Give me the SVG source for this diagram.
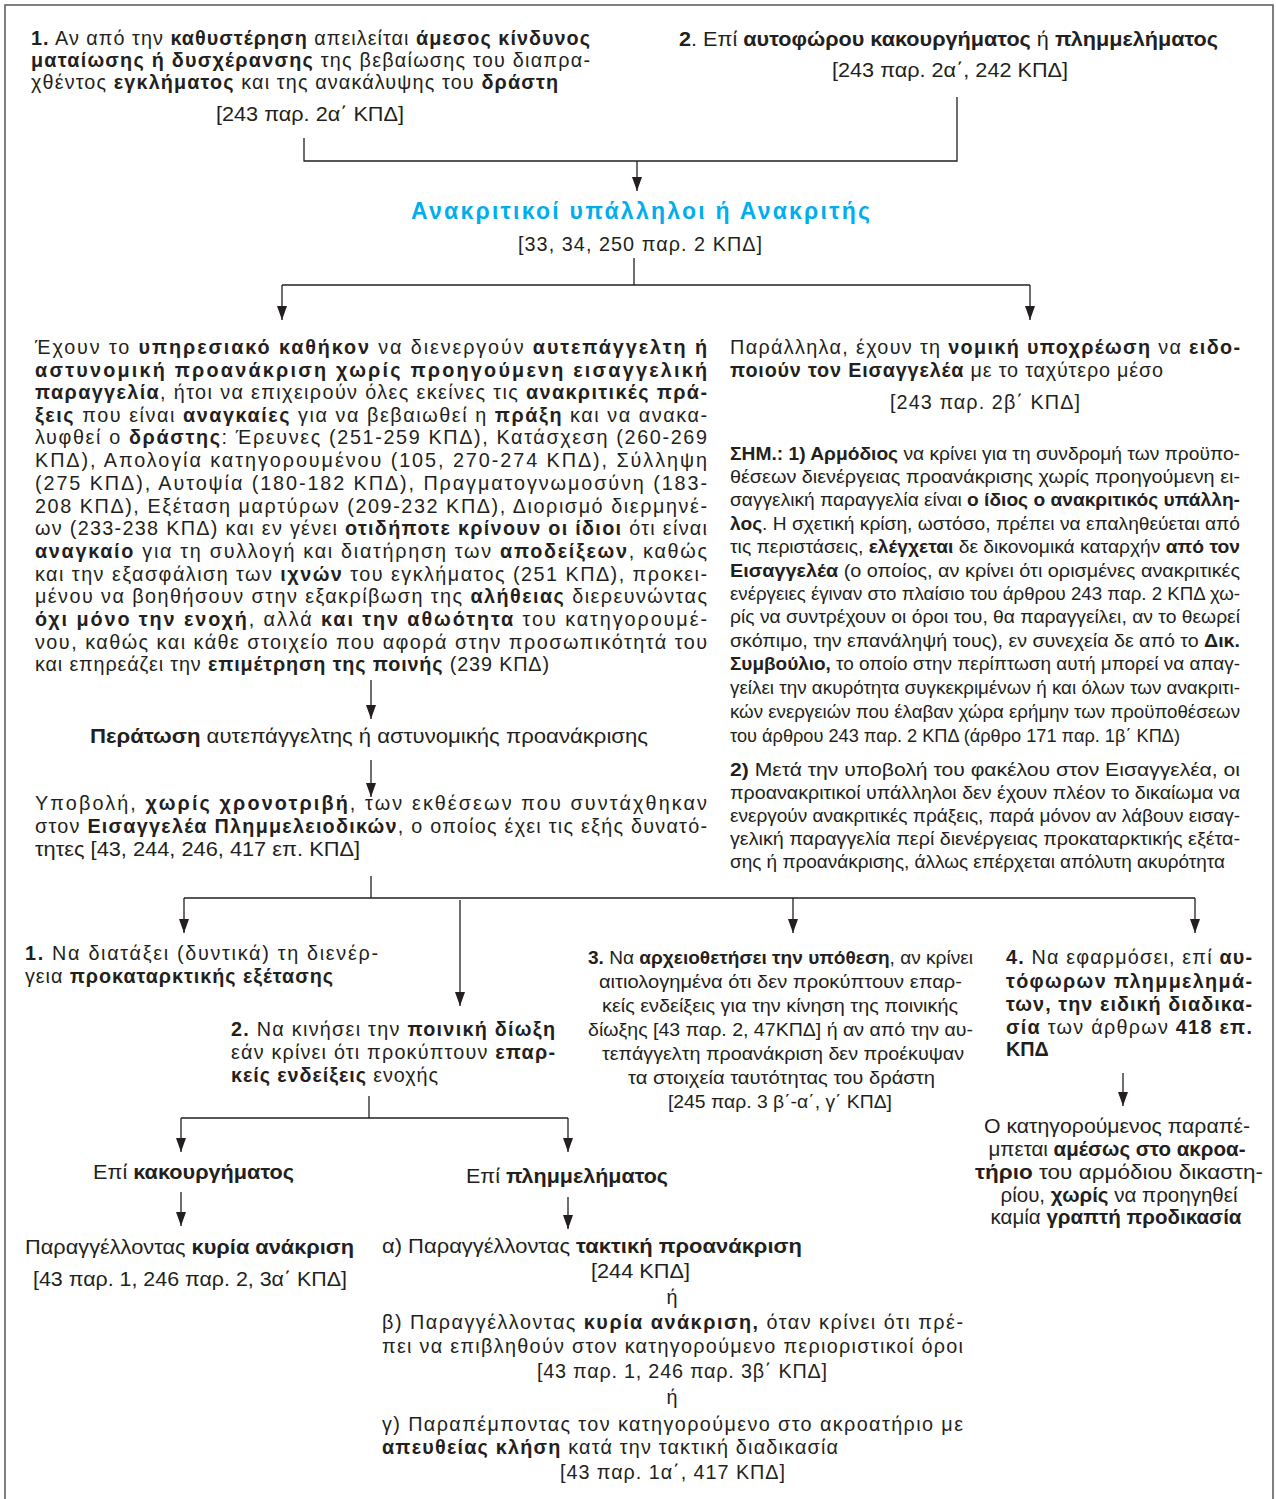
<svg xmlns="http://www.w3.org/2000/svg" width="1276" height="1499" viewBox="0 0 1276 1499">
<style>
text{font-family:"Liberation Sans","Noto Sans",sans-serif;font-size:19.8px;fill:#231f20}
.b{font-weight:bold}
.s{font-size:18.5px}
.c{font-size:17.5px}
.m{text-anchor:middle}
.blue{fill:#00aeef;font-weight:bold;font-size:23px}
.ln{fill:none;stroke:#231f20;stroke-width:1.3}
.frame{fill:none;stroke:#555;stroke-width:1.5}
</style>
<defs>
<marker id="ah" markerUnits="userSpaceOnUse" markerWidth="14" markerHeight="10" refX="14" refY="5" orient="auto">
<path d="M0,0 L14,5 L0,10 z" fill="#231f20"/>
</marker>
</defs>
<rect class="frame" x="5" y="5" width="1268" height="1510"/>

<g id="connectors">
<polyline class="ln" points="304,138 304,161 957,161 957,97"/>
<line class="ln" x1="637" y1="161" x2="637" y2="191" marker-end="url(#ah)"/>
<line class="ln" x1="634" y1="258" x2="634" y2="285"/>
<line class="ln" x1="282" y1="285" x2="1030" y2="285"/>
<line class="ln" x1="282" y1="285" x2="282" y2="320" marker-end="url(#ah)"/>
<line class="ln" x1="1030" y1="285" x2="1030" y2="320" marker-end="url(#ah)"/>
<line class="ln" x1="371" y1="680" x2="371" y2="719" marker-end="url(#ah)"/>
<line class="ln" x1="371" y1="760" x2="371" y2="797" marker-end="url(#ah)"/>
<line class="ln" x1="371" y1="876" x2="371" y2="898"/>
<line class="ln" x1="184" y1="898" x2="1195" y2="898"/>
<line class="ln" x1="184" y1="898" x2="184" y2="933" marker-end="url(#ah)"/>
<line class="ln" x1="460" y1="900" x2="460" y2="1006" marker-end="url(#ah)"/>
<line class="ln" x1="793" y1="898" x2="793" y2="933" marker-end="url(#ah)"/>
<line class="ln" x1="1195" y1="898" x2="1195" y2="933" marker-end="url(#ah)"/>
<line class="ln" x1="1123" y1="1073" x2="1123" y2="1106" marker-end="url(#ah)"/>
<line class="ln" x1="369" y1="1096" x2="369" y2="1118"/>
<line class="ln" x1="181" y1="1118" x2="568" y2="1118"/>
<line class="ln" x1="181" y1="1118" x2="181" y2="1152" marker-end="url(#ah)"/>
<line class="ln" x1="568" y1="1118" x2="568" y2="1152" marker-end="url(#ah)"/>
<line class="ln" x1="181" y1="1192" x2="181" y2="1226" marker-end="url(#ah)"/>
<line class="ln" x1="568" y1="1197" x2="568" y2="1229" marker-end="url(#ah)"/>
</g>

<g id="cond1">
<text x="31" y="45" textLength="559" lengthAdjust="spacing"><tspan class="b">1.</tspan> Αν από την <tspan class="b">καθυστέρηση</tspan> απειλείται <tspan class="b">άμεσος κίνδυνος</tspan></text>
<text x="31" y="67" textLength="559" lengthAdjust="spacing"><tspan class="b">ματαίωσης ή δυσχέρανσης</tspan> της βεβαίωσης του διαπρα-</text>
<text x="31" y="89" textLength="527" lengthAdjust="spacing">χθέντος <tspan class="b">εγκλήματος</tspan> και της ανακάλυψης του <tspan class="b">δράστη</tspan></text>
<text x="216" y="121" textLength="188" lengthAdjust="spacingAndGlyphs">[243 παρ. 2α΄ ΚΠΔ]</text>
</g>

<g id="cond2">
<text x="679" y="46" textLength="539" lengthAdjust="spacingAndGlyphs"><tspan class="b">2</tspan>. Επί <tspan class="b">αυτοφώρου κακουργήματος</tspan> ή <tspan class="b">πλημμελήματος</tspan></text>
<text x="832" y="77" textLength="236" lengthAdjust="spacingAndGlyphs">[243 παρ. 2α΄, 242 ΚΠΔ]</text>
</g>

<g id="anakritikoi">
<text class="blue" x="411" y="219" textLength="459" lengthAdjust="spacing">Ανακριτικοί υπάλληλοι ή Ανακριτής</text>
<text x="518" y="251" textLength="244" lengthAdjust="spacing">[33, 34, 250 παρ. 2 ΚΠΔ]</text>
</g>

<g id="kathikon">
<text x="35" y="354" textLength="672" lengthAdjust="spacing">Έχουν το <tspan class="b">υπηρεσιακό καθήκον</tspan> να διενεργούν <tspan class="b">αυτεπάγγελτη ή</tspan></text>
<text x="35" y="377" textLength="672" lengthAdjust="spacing"><tspan class="b">αστυνομική προανάκριση χωρίς προηγούμενη εισαγγελική</tspan></text>
<text x="35" y="399" textLength="672" lengthAdjust="spacing"><tspan class="b">παραγγελία</tspan>, ήτοι να επιχειρούν όλες εκείνες τις <tspan class="b">ανακριτικές πρά-</tspan></text>
<text x="35" y="422" textLength="672" lengthAdjust="spacing"><tspan class="b">ξεις</tspan> που είναι <tspan class="b">αναγκαίες</tspan> για να βεβαιωθεί η <tspan class="b">πράξη</tspan> και να ανακα-</text>
<text x="35" y="444" textLength="672" lengthAdjust="spacing">λυφθεί ο <tspan class="b">δράστης</tspan>: Έρευνες (251-259 ΚΠΔ), Κατάσχεση (260-269</text>
<text x="35" y="467" textLength="672" lengthAdjust="spacing">ΚΠΔ), Απολογία κατηγορουμένου (105, 270-274 ΚΠΔ), Σύλληψη</text>
<text x="35" y="490" textLength="672" lengthAdjust="spacing">(275 ΚΠΔ), Αυτοψία (180-182 ΚΠΔ), Πραγματογνωμοσύνη (183-</text>
<text x="35" y="513" textLength="672" lengthAdjust="spacing">208 ΚΠΔ), Εξέταση μαρτύρων (209-232 ΚΠΔ), Διορισμό διερμηνέ-</text>
<text x="35" y="535" textLength="672" lengthAdjust="spacing">ων (233-238 ΚΠΔ) και εν γένει <tspan class="b">οτιδήποτε κρίνουν οι ίδιοι</tspan> ότι είναι</text>
<text x="35" y="558" textLength="672" lengthAdjust="spacing"><tspan class="b">αναγκαίο</tspan> για τη συλλογή και διατήρηση των <tspan class="b">αποδείξεων</tspan>, καθώς</text>
<text x="35" y="581" textLength="672" lengthAdjust="spacing">και την εξασφάλιση των <tspan class="b">ιχνών</tspan> του εγκλήματος (251 ΚΠΔ), προκει-</text>
<text x="35" y="603" textLength="672" lengthAdjust="spacing">μένου να βοηθήσουν στην εξακρίβωση της <tspan class="b">αλήθειας</tspan> διερευνώντας</text>
<text x="35" y="626" textLength="672" lengthAdjust="spacing"><tspan class="b">όχι μόνο την ενοχή</tspan>, αλλά <tspan class="b">και την αθωότητα</tspan> του κατηγορουμέ-</text>
<text x="35" y="649" textLength="672" lengthAdjust="spacing">νου, καθώς και κάθε στοιχείο που αφορά στην προσωπικότητά του</text>
<text x="35" y="671" textLength="514" lengthAdjust="spacing">και επηρεάζει την <tspan class="b">επιμέτρηση της ποινής</tspan> (239 ΚΠΔ)</text>
</g>

<g id="eidopoiisi">
<text x="730" y="354" textLength="510" lengthAdjust="spacing">Παράλληλα, έχουν τη <tspan class="b">νομική υποχρέωση</tspan> να <tspan class="b">ειδο-</tspan></text>
<text x="730" y="377" textLength="433" lengthAdjust="spacing"><tspan class="b">ποιούν τον Εισαγγελέα</tspan> με το ταχύτερο μέσο</text>
<text x="890" y="409" textLength="190" lengthAdjust="spacing">[243 παρ. 2β΄ ΚΠΔ]</text>
</g>

<g id="simeiosi">
<text class="s" x="730" y="460" textLength="510" lengthAdjust="spacingAndGlyphs"><tspan class="b">ΣΗΜ.: 1) Αρμόδιος</tspan> να κρίνει για τη συνδρομή των προϋπο-</text>
<text class="s" x="730" y="483" textLength="510" lengthAdjust="spacingAndGlyphs">θέσεων διενέργειας προανάκρισης χωρίς προηγούμενη ει-</text>
<text class="s" x="730" y="506" textLength="510" lengthAdjust="spacingAndGlyphs">σαγγελική παραγγελία είναι <tspan class="b">ο ίδιος ο ανακριτικός υπάλλη-</tspan></text>
<text class="s" x="730" y="530" textLength="510" lengthAdjust="spacingAndGlyphs"><tspan class="b">λος</tspan>. Η σχετική κρίση, ωστόσο, πρέπει να επαληθεύεται από</text>
<text class="s" x="730" y="553" textLength="510" lengthAdjust="spacingAndGlyphs">τις περιστάσεις, <tspan class="b">ελέγχεται</tspan> δε δικονομικά καταρχήν <tspan class="b">από τον</tspan></text>
<text class="s" x="730" y="577" textLength="510" lengthAdjust="spacingAndGlyphs"><tspan class="b">Εισαγγελέα</tspan> (ο οποίος, αν κρίνει ότι ορισμένες ανακριτικές</text>
<text class="s" x="730" y="600" textLength="510" lengthAdjust="spacingAndGlyphs">ενέργειες έγιναν στο πλαίσιο του άρθρου 243 παρ. 2 ΚΠΔ χω-</text>
<text class="s" x="730" y="623" textLength="510" lengthAdjust="spacingAndGlyphs">ρίς να συντρέχουν οι όροι του, θα παραγγείλει, αν το θεωρεί</text>
<text class="s" x="730" y="647" textLength="510" lengthAdjust="spacingAndGlyphs">σκόπιμο, την επανάληψή τους), εν συνεχεία δε από το <tspan class="b">Δικ.</tspan></text>
<text class="s" x="730" y="670" textLength="510" lengthAdjust="spacingAndGlyphs"><tspan class="b">Συμβούλιο,</tspan> το οποίο στην περίπτωση αυτή μπορεί να απαγ-</text>
<text class="s" x="730" y="694" textLength="510" lengthAdjust="spacingAndGlyphs">γείλει την ακυρότητα συγκεκριμένων ή και όλων των ανακριτι-</text>
<text class="s" x="730" y="718" textLength="510" lengthAdjust="spacingAndGlyphs">κών ενεργειών που έλαβαν χώρα ερήμην των προϋποθέσεων</text>
<text class="s" x="730" y="742" textLength="450" lengthAdjust="spacingAndGlyphs">του άρθρου 243 παρ. 2 ΚΠΔ (άρθρο 171 παρ. 1β΄ ΚΠΔ)</text>
<text class="s" x="730" y="776" textLength="510" lengthAdjust="spacingAndGlyphs"><tspan class="b">2)</tspan> Μετά την υποβολή του φακέλου στον Εισαγγελέα, οι</text>
<text class="s" x="730" y="799" textLength="510" lengthAdjust="spacingAndGlyphs">προανακριτικοί υπάλληλοι δεν έχουν πλέον το δικαίωμα να</text>
<text class="s" x="730" y="822" textLength="510" lengthAdjust="spacingAndGlyphs">ενεργούν ανακριτικές πράξεις, παρά μόνον αν λάβουν εισαγ-</text>
<text class="s" x="730" y="845" textLength="510" lengthAdjust="spacingAndGlyphs">γελική παραγγελία περί διενέργειας προκαταρκτικής εξέτα-</text>
<text class="s" x="730" y="868" textLength="495" lengthAdjust="spacingAndGlyphs">σης ή προανάκρισης, άλλως επέρχεται απόλυτη ακυρότητα</text>
</g>

<g id="peratosi">
<text x="90" y="743" textLength="558" lengthAdjust="spacingAndGlyphs"><tspan class="b">Περάτωση</tspan> αυτεπάγγελτης ή αστυνομικής προανάκρισης</text>
</g>

<g id="ypovoli">
<text x="35" y="810" textLength="672" lengthAdjust="spacing">Υποβολή, <tspan class="b">χωρίς χρονοτριβή</tspan>, των εκθέσεων που συντάχθηκαν</text>
<text x="35" y="833" textLength="672" lengthAdjust="spacing">στον <tspan class="b">Εισαγγελέα Πλημμελειοδικών</tspan>, ο οποίος έχει τις εξής δυνατό-</text>
<text x="35" y="856" textLength="325" lengthAdjust="spacingAndGlyphs">τητες [43, 244, 246, 417 επ. ΚΠΔ]</text>
</g>

<g id="dynatotita1">
<text x="25" y="960" textLength="353" lengthAdjust="spacing"><tspan class="b">1.</tspan> Να διατάξει (δυντικά) τη διενέρ-</text>
<text x="25" y="983" textLength="308" lengthAdjust="spacing">γεια <tspan class="b">προκαταρκτικής εξέτασης</tspan></text>
</g>

<g id="dynatotita2">
<text x="231" y="1036" textLength="324" lengthAdjust="spacing"><tspan class="b">2.</tspan> Να κινήσει την <tspan class="b">ποινική δίωξη</tspan></text>
<text x="231" y="1059" textLength="324" lengthAdjust="spacing">εάν κρίνει ότι προκύπτουν <tspan class="b">επαρ-</tspan></text>
<text x="231" y="1082" textLength="207" lengthAdjust="spacing"><tspan class="b">κείς ενδείξεις</tspan> ενοχής</text>
</g>

<g id="dynatotita3">
<text class="c" x="588" y="964" textLength="385" lengthAdjust="spacingAndGlyphs"><tspan class="b">3.</tspan> Να <tspan class="b">αρχειοθετήσει την υπόθεση</tspan>, αν κρίνει</text>
<text class="c" x="599" y="988" textLength="363" lengthAdjust="spacingAndGlyphs">αιτιολογημένα ότι δεν προκύπτουν επαρ-</text>
<text class="c" x="602" y="1012" textLength="356" lengthAdjust="spacingAndGlyphs">κείς ενδείξεις για την κίνηση της ποινικής</text>
<text class="c" x="588" y="1036" textLength="385" lengthAdjust="spacingAndGlyphs">δίωξης [43 παρ. 2, 47ΚΠΔ] ή αν από την αυ-</text>
<text class="c" x="602" y="1060" textLength="362" lengthAdjust="spacingAndGlyphs">τεπάγγελτη προανάκριση δεν προέκυψαν</text>
<text class="c" x="628" y="1084" textLength="307" lengthAdjust="spacingAndGlyphs">τα στοιχεία ταυτότητας του δράστη</text>
<text class="c" x="668" y="1108" textLength="224" lengthAdjust="spacingAndGlyphs">[245 παρ. 3 β΄-α΄, γ΄ ΚΠΔ]</text>
</g>

<g id="dynatotita4">
<text x="1006" y="964" textLength="246" lengthAdjust="spacing"><tspan class="b">4.</tspan> Να εφαρμόσει, επί <tspan class="b">αυ-</tspan></text>
<text x="1006" y="988" textLength="246" lengthAdjust="spacing"><tspan class="b">τόφωρων πλημμελημά-</tspan></text>
<text x="1006" y="1011" textLength="246" lengthAdjust="spacing"><tspan class="b">των, την ειδική διαδικα-</tspan></text>
<text x="1006" y="1034" textLength="246" lengthAdjust="spacing"><tspan class="b">σία</tspan> των άρθρων <tspan class="b">418 επ.</tspan></text>
<text x="1006" y="1056" class="b">ΚΠΔ</text>
</g>

<g id="akroatirio">
<text class="m" x="1117" y="1133" textLength="266" lengthAdjust="spacingAndGlyphs">Ο κατηγορούμενος παραπέ-</text>
<text class="m" x="1117" y="1156" textLength="257" lengthAdjust="spacingAndGlyphs">μπεται <tspan class="b">αμέσως στο ακροα-</tspan></text>
<text class="m" x="1119" y="1179" textLength="288" lengthAdjust="spacingAndGlyphs"><tspan class="b">τήριο</tspan> του αρμόδιου δικαστη-</text>
<text class="m" x="1119" y="1202" textLength="237" lengthAdjust="spacingAndGlyphs">ρίου, <tspan class="b">χωρίς</tspan> να προηγηθεί</text>
<text class="m" x="1116" y="1224" textLength="251" lengthAdjust="spacingAndGlyphs">καμία <tspan class="b">γραπτή προδικασία</tspan></text>
</g>

<g id="kakourgima">
<text x="93" y="1179" textLength="201" lengthAdjust="spacingAndGlyphs">Επί <tspan class="b">κακουργήματος</tspan></text>
</g>

<g id="kyria">
<text x="25" y="1254" textLength="329" lengthAdjust="spacingAndGlyphs">Παραγγέλλοντας <tspan class="b">κυρία ανάκριση</tspan></text>
<text x="33" y="1286" textLength="314" lengthAdjust="spacingAndGlyphs">[43 παρ. 1, 246 παρ. 2, 3α΄ ΚΠΔ]</text>
</g>

<g id="plimmelima">
<text x="466" y="1183" textLength="202" lengthAdjust="spacingAndGlyphs">Επί <tspan class="b">πλημμελήματος</tspan></text>
</g>

<g id="epiloges">
<text x="382" y="1253" textLength="420" lengthAdjust="spacingAndGlyphs">α) Παραγγέλλοντας <tspan class="b">τακτική προανάκριση</tspan></text>
<text x="591" y="1278" textLength="99" lengthAdjust="spacingAndGlyphs">[244 ΚΠΔ]</text>
<text class="m" x="672" y="1304">ή</text>
<text x="382" y="1329" textLength="581" lengthAdjust="spacing">β) Παραγγέλλοντας <tspan class="b">κυρία ανάκριση,</tspan> όταν κρίνει ότι πρέ-</text>
<text x="382" y="1353" textLength="581" lengthAdjust="spacing">πει να επιβληθούν στον κατηγορούμενο περιοριστικοί όροι</text>
<text x="537" y="1378" textLength="290" lengthAdjust="spacing">[43 παρ. 1, 246 παρ. 3β΄ ΚΠΔ]</text>
<text class="m" x="672" y="1404">ή</text>
<text x="382" y="1431" textLength="581" lengthAdjust="spacing">γ) Παραπέμποντας τον κατηγορούμενο στο ακροατήριο με</text>
<text x="382" y="1454" textLength="456" lengthAdjust="spacing"><tspan class="b">απευθείας κλήση</tspan> κατά την τακτική διαδικασία</text>
<text x="560" y="1479" textLength="225" lengthAdjust="spacing">[43 παρ. 1α΄, 417 ΚΠΔ]</text>
</g>
</svg>
